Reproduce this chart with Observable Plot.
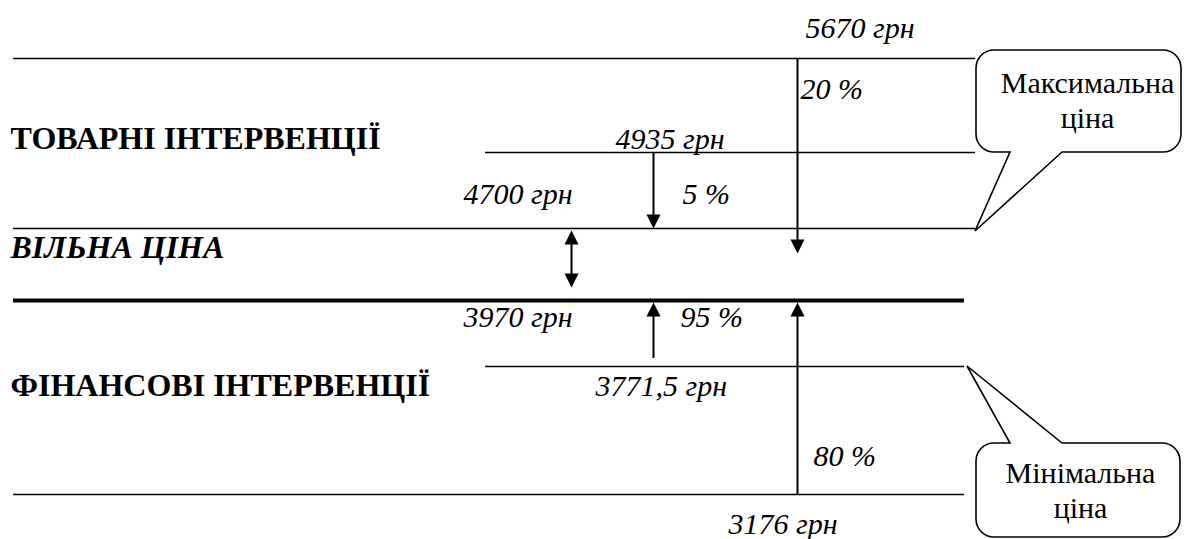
<!DOCTYPE html>
<html>
<head>
<meta charset="utf-8">
<script src="https://cdn.jsdelivr.net/npm/d3@7"></script>
<script src="https://cdn.jsdelivr.net/npm/@observablehq/plot@0.6"></script>
<style>
  html, body { margin: 0; padding: 0; background: #fff; }
  #chart svg { display: block; }
  #chart svg text, #chart svg tspan { font-family: "Liberation Serif", "Times New Roman", "DejaVu Serif", serif !important; }
</style>
</head>
<body>
<div id="chart"></div>
<script>
// ---------- DATA ----------
const levels = [5670, 4935, 4700, 3970, 3771.5, 3176];
const levelLabels = ["5670 грн", "4935 грн", "4700 грн", "3970 грн", "3771,5 грн", "3176 грн"];
const percentLabels = ["20 %", "5 %", "95 %", "80 %"];
const percentFrom = [5670, 4935, 3771.5, 3176];
const percentTo = [4700, 4700, 3970, 3970];
const sectionLabels = ["ТОВАРНІ ІНТЕРВЕНЦІЇ", "ВІЛЬНА ЦІНА", "ФІНАНСОВІ ІНТЕРВЕНЦІЇ"];
const sectionLevels = [4935, 4700, 3771.5];
const freePriceBand = [4700, 3970];
const calloutLabels = ["Максимальна\nціна", "Мінімальна\nціна"];
const calloutTargets = [4700, 3771.5];

// ---------- LAYOUT / STYLE ----------
const W = 1184, H = 539;
const SERIF = "Liberation Serif, Times New Roman, DejaVu Serif, serif";
const FS = 30, FS_BOLD = 32;
// the diagram is not drawn to scale: each price level gets its own row
const levelRows = [58, 152, 228, 300, 366, 494];
const priceToRow = d3.scaleLinear().domain(levels).range(levelRows);
const lineStart = [13, 485, 13, 13, 485, 13];
const lineEnd = [975, 975, 975, 964, 964, 964];
const lineWidth = [1.6, 1.6, 1.6, 4, 1.6, 1.6];
const levelLabelX = [805, 615, 463, 463, 595, 728];
const levelLabelDy = [-21, -4, -25, 26, 29, 39];
const sectionX = 10;
const sectionDy = [-4, 29, 29];
const sectionStyle = ["normal", "italic", "normal"];
const arrowX = [797, 653, 653, 797];
const arrowTipOffset = [25, 0, 2, 2];
const arrowStartGap = [0, 0, 8, 0];
const percentX = [800, 682, 680, 813];
const percentAt = [5670, 4700, 3970, 3176];
const percentDy = [40, -25, 26, -29];
const freeArrowX = 571;
const freeArrowInset = [2, 13];
const HEAD_W = 14, HEAD_L = 14;

const yOpts = {type: "linear", domain: [0, H], range: [0, H], transform: (v) => priceToRow(v), axis: null};
const xOpts = {type: "linear", domain: [0, W], range: [0, W], axis: null};

// arrowheads with the tip at the origin
const headDown = {draw(ctx) { ctx.moveTo(0, 0); ctx.lineTo(-HEAD_W / 2, -HEAD_L); ctx.lineTo(HEAD_W / 2, -HEAD_L); ctx.closePath(); }};
const headUp = {draw(ctx) { ctx.moveTo(0, 0); ctx.lineTo(-HEAD_W / 2, HEAD_L); ctx.lineTo(HEAD_W / 2, HEAD_L); ctx.closePath(); }};

const marks = [];

// horizontal price lines
levels.forEach((v, i) => {
  marks.push(Plot.ruleY([{y: v, x1: lineStart[i], x2: lineEnd[i]}], {
    y: "y", x1: "x1", x2: "x2", stroke: "black", strokeWidth: lineWidth[i]
  }));
});

// percent arrows
percentLabels.forEach((lab, i) => {
  const from = percentFrom[i], to = percentTo[i];
  const down = from > to;
  const tip = arrowTipOffset[i];
  const d = {x: arrowX[i], top: down ? from : to, bottom: down ? to : from, tipY: to};
  marks.push(Plot.ruleX([d], {
    x: "x", y1: "top", y2: "bottom", stroke: "black", strokeWidth: 2,
    insetTop: down ? arrowStartGap[i] : tip + HEAD_L * 0.5,
    insetBottom: down ? HEAD_L * 0.5 - tip : arrowStartGap[i]
  }));
  marks.push(Plot.dot([d], {
    x: "x", y: "tipY", dy: tip, symbol: down ? headDown : headUp, fill: "black", stroke: "none"
  }));
});

// double arrow of the free price band
{
  const d = {x: freeArrowX, top: freePriceBand[0], bottom: freePriceBand[1]};
  marks.push(Plot.ruleX([d], {
    x: "x", y1: "top", y2: "bottom", stroke: "black", strokeWidth: 2,
    insetTop: freeArrowInset[0] + HEAD_L * 0.5, insetBottom: freeArrowInset[1] + HEAD_L * 0.5
  }));
  marks.push(Plot.dot([d], {x: "x", y: "top", dy: freeArrowInset[0], symbol: headUp, fill: "black", stroke: "none"}));
  marks.push(Plot.dot([d], {x: "x", y: "bottom", dy: -freeArrowInset[1], symbol: headDown, fill: "black", stroke: "none"}));
}

// price labels
levels.forEach((v, i) => {
  marks.push(Plot.text([{x: levelLabelX[i], y: v, t: levelLabels[i]}], {
    x: "x", y: "y", text: "t", dy: levelLabelDy[i], textAnchor: "start", lineAnchor: "bottom",
    fontFamily: SERIF, fontSize: FS, fontStyle: "italic", fill: "black"
  }));
});

// percent labels
percentLabels.forEach((lab, i) => {
  marks.push(Plot.text([{x: percentX[i], y: percentAt[i], t: lab}], {
    x: "x", y: "y", text: "t", dy: percentDy[i], textAnchor: "start", lineAnchor: "bottom",
    fontFamily: SERIF, fontSize: FS, fontStyle: "italic", fill: "black"
  }));
});

// section labels
sectionLabels.forEach((lab, i) => {
  marks.push(Plot.text([{x: sectionX, y: sectionLevels[i], t: lab}], {
    x: "x", y: "y", text: "t", dy: sectionDy[i], textAnchor: "start", lineAnchor: "bottom",
    fontFamily: SERIF, fontSize: FS_BOLD, fontWeight: "bold", fontStyle: sectionStyle[i], fill: "black"
  }));
});

// callout shapes
const calloutGeom = [
  {L: 976, R: 1181, topLevel: 5670, topOff: -8, botLevel: 4935, botOff: 0, side: "bottom", xa: 1010, xb: 1062, tx: 975, tipOff: 3},
  {L: 976, R: 1180, topLevel: 3176, topOff: -51, botLevel: 3176, botOff: 43, side: "top", xa: 1010, xb: 1062, tx: 967, tipOff: 0}
];
function calloutPath(g, y, x, i) {
  const T = y(priceToRow(g.topLevel)) + g.topOff, B = y(priceToRow(g.botLevel)) + g.botOff;
  const L = x(g.L), R = x(g.R), r = 18;
  const ty = y(priceToRow(calloutTargets[i])) + g.tipOff;
  const xa = x(g.xa), xb = x(g.xb), tx = x(g.tx);
  const p = d3.path();
  p.moveTo(L + r, T);
  if (g.side === "top") { p.lineTo(xa, T); p.lineTo(tx, ty); p.lineTo(xb, T); }
  p.lineTo(R - r, T);
  p.arcTo(R, T, R, T + r, r);
  p.lineTo(R, B - r);
  p.arcTo(R, B, R - r, B, r);
  if (g.side === "bottom") { p.lineTo(xb, B); p.lineTo(tx, ty); p.lineTo(xa, B); }
  p.lineTo(L + r, B);
  p.arcTo(L, B, L, B - r, r);
  p.lineTo(L, T + r);
  p.arcTo(L, T, L + r, T, r);
  p.closePath();
  return p.toString();
}
const identity = (v) => v;
marks.push(function (index, scales) {
  const y = (scales && typeof scales.y === "function") ? scales.y : identity;
  const x = (scales && typeof scales.x === "function") ? scales.x : identity;
  const g = d3.create("svg:g");
  calloutGeom.forEach((c, i) => {
    g.append("path").attr("d", calloutPath(c, y, x, i))
      .attr("fill", "white").attr("stroke", "black").attr("stroke-width", 1.6)
      .attr("stroke-linejoin", "miter");
  });
  return g.node();
});

// callout texts
const calloutTextX = [1087, 1080];
const calloutTextAt = [4935, 3176];
const calloutTextDy = [-25, 23];
calloutLabels.forEach((lab, i) => {
  marks.push(Plot.text([{x: calloutTextX[i], y: calloutTextAt[i], t: lab}], {
    x: "x", y: "y", text: "t", dy: calloutTextDy[i], textAnchor: "middle", lineAnchor: "bottom",
    lineHeight: 1.15, fontFamily: SERIF, fontSize: FS, fill: "black"
  }));
});

const chart = Plot.plot({
  width: W,
  height: H,
  margin: 0,
  x: xOpts,
  y: yOpts,
  style: {background: "white", overflow: "visible"},
  marks
});
document.getElementById("chart").appendChild(chart);
</script>
</body>
</html>
